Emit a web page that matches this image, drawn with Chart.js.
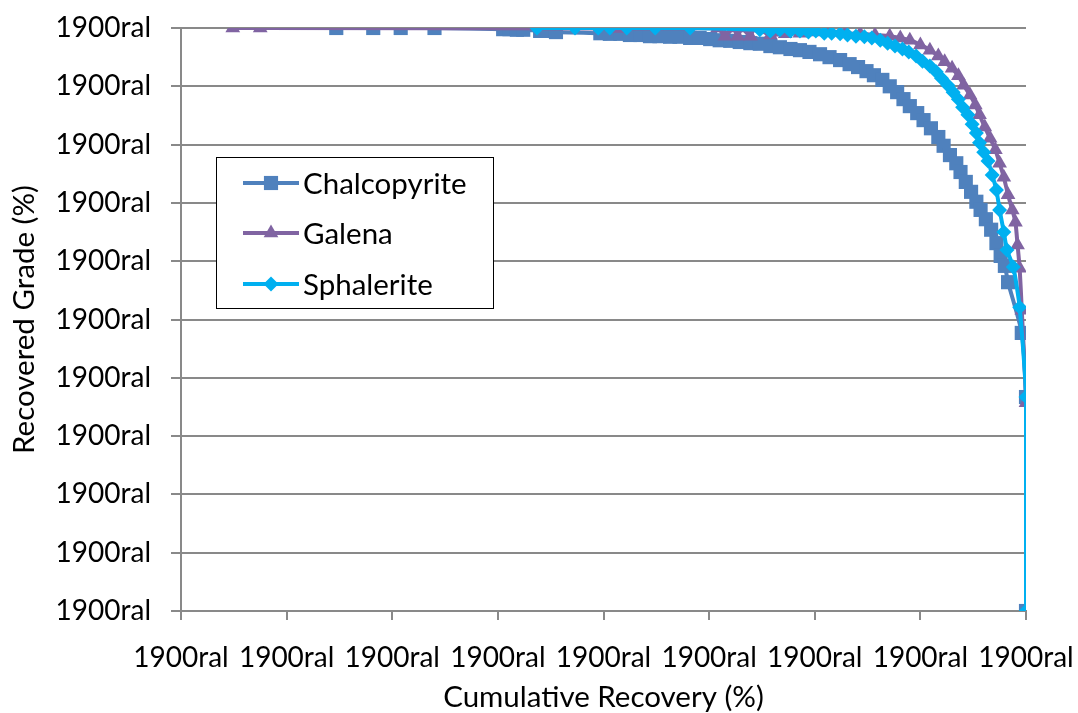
<!DOCTYPE html>
<html>
<head>
<meta charset="utf-8">
<title>Recovered Grade vs Cumulative Recovery</title>
<script src="https://cdn.jsdelivr.net/npm/chart.js@4/dist/chart.umd.min.js"></script>
<style>
  body { margin: 0; background: #fff; }
  #wrap { width: 1078px; height: 713px; }
</style>
</head>
<body>
<div id="wrap"><canvas id="gradeChart" width="1078" height="713"></canvas></div>
<script>
// series names and axis labels
const seriesNames = ["Chalcopyrite", "Galena", "Sphalerite"];
const tickText = "1900ral";
const xTitle = "Cumulative Recovery (%)";
const yTitle = "Recovered Grade (%)";

// Chalcopyrite
const chalcoX = [34.7, 38.2, 40.8, 44.0, 50.5, 51.1, 51.8, 52.4, 54.0, 54.7, 55.5, 59.7, 60.6, 61.6, 62.5, 63.5, 64.4, 65.3, 66.3, 67.2,
  68.2, 69.1, 70.1, 71.0, 72.0, 72.9, 73.9, 74.8, 75.8, 76.7, 77.7, 78.6, 79.5, 80.5, 81.4, 82.4, 83.3, 84.1, 84.9, 85.6,
  86.4, 87.1, 87.8, 88.4, 89.0, 89.7, 90.3, 91.0, 91.7, 92.2, 92.8, 93.4, 93.8, 94.3, 94.8, 95.3, 95.7, 96.2, 96.7, 97.2,
  97.6, 98.0, 98.3, 99.6, 100.0, 100.0];
const chalcoY = [100, 100, 100, 100, 99.8, 99.8, 99.7, 99.7, 99.5, 99.5, 99.3, 99.1, 99.0, 99.0, 98.8, 98.8, 98.6, 98.6, 98.5, 98.5,
  98.3, 98.3, 98.1, 97.9, 97.8, 97.6, 97.4, 97.3, 96.9, 96.7, 96.4, 96.2, 95.9, 95.5, 95.0, 94.5, 93.8, 93.3, 92.6, 91.9,
  91.1, 90.0, 89.0, 87.8, 86.6, 85.4, 84.2, 82.8, 81.3, 79.8, 78.2, 76.8, 75.3, 73.6, 71.9, 70.2, 68.8, 67.2, 65.4, 63.1,
  60.9, 59.2, 56.4, 47.7, 36.7, 0];

// Galena
const galenaX = [24.9, 27.5, 61.4, 70.8, 71.5, 72.3, 72.7, 73.1, 73.9, 74.3, 75.8, 77.2, 78.6, 80.0, 81.4, 82.9, 84.3, 85.7, 87.1, 88.1,
  89.0, 90.0, 90.9, 91.7, 92.3, 93.0, 93.6, 94.1, 94.7, 95.2, 95.6, 96.1, 96.6, 97.1, 97.5, 97.9, 98.3, 98.7, 99.0, 99.2,
  99.4, 99.6, 100.0, 100.0];
const galenaY = [100, 100, 99.9, 100, 98.6, 100, 98.6, 100, 98.6, 100, 98.8, 99.0, 99.1, 99.3, 99.5, 99.1, 99.0, 98.8, 98.6, 98.3,
  97.9, 97.1, 96.2, 95.2, 94.2, 93.1, 91.8, 90.2, 88.5, 86.8, 85.1, 83.0, 81.1, 79.1, 76.8, 74.4, 71.4, 68.8, 66.7, 62.8,
  58.8, 51.6, 35.7, 0];

// Sphalerite
const sphalX = [53.7, 57.3, 59.5, 60.6, 62.2, 64.9, 68.2, 74.8, 75.8, 76.7, 77.7, 78.6, 79.4, 80.1, 80.9, 81.6, 82.4, 83.1, 83.9, 84.7,
  85.4, 86.2, 86.9, 87.6, 88.3, 88.9, 89.6, 90.2, 90.9, 91.5, 92.0, 92.6, 93.1, 93.6, 94.0, 94.5, 94.9, 95.3, 95.6, 96.0,
  96.4, 96.8, 97.2, 97.5, 97.9, 98.2, 98.8, 99.4, 100.0, 100.0];
const sphalY = [100, 100, 100, 100, 100, 100, 100, 99.7, 99.5, 99.7, 99.5, 99.5, 99.3, 99.5, 99.1, 99.1, 99.0, 98.8, 98.6, 98.5,
  98.3, 97.9, 97.4, 96.9, 96.4, 95.9, 95.2, 94.3, 93.5, 92.5, 91.4, 90.2, 89.0, 87.8, 86.4, 85.1, 83.5, 82.0, 80.3, 78.7,
  77.2, 74.8, 72.2, 68.8, 65.0, 61.9, 59.0, 52.1, 36.7, 0];

const colors = ["#4F81BD", "#8064A2", "#00B0F0"];
const markers = ["rect", "triangle", "rectRot"];
const markerSize = [10, 8.5, 7.5];

function toPoints(xs, ys) {
  return xs.map((x, i) => ({ x: x, y: ys[i] }));
}

const seriesData = [toPoints(chalcoX, chalcoY), toPoints(galenaX, galenaY), toPoints(sphalX, sphalY)];

const datasets = seriesData.map((pts, i) => ({
  label: seriesNames[i],
  data: pts,
  borderColor: colors[i],
  backgroundColor: colors[i],
  borderWidth: 4,
  pointStyle: markers[i],
  pointRadius: markerSize[i],
  pointBorderWidth: 0,
  pointBackgroundColor: colors[i],
  tension: 0.2,
  // first series at the bottom, last one on top
  order: seriesNames.length - i
}));

const FONT = "Lato, 'Open Sans', sans-serif";
const gridColor = "#898989";

// legend box drawn inside the plot like the original
const boxLegend = {
  id: "boxLegend",
  afterDatasetsDraw(chart) {
    const ctx = chart.ctx;
    ctx.save();
    ctx.fillStyle = "#fff";
    ctx.fillRect(216, 157, 278, 151);
    ctx.strokeStyle = "#000";
    ctx.lineWidth = 1;
    ctx.strokeRect(216.5, 157.5, 277, 151);
    const rows = [183, 233, 284];
    chart.data.datasets.forEach((ds, i) => {
      const y = rows[i];
      ctx.strokeStyle = ds.borderColor;
      ctx.lineWidth = 4;
      ctx.beginPath();
      ctx.moveTo(243, y);
      ctx.lineTo(299, y);
      ctx.stroke();
      ctx.fillStyle = ds.borderColor;
      Chart.helpers.drawPoint(ctx, { pointStyle: ds.pointStyle, radius: ds.pointRadius, borderWidth: 0, rotation: 0 }, 271, y);
      ctx.fillStyle = "#000";
      ctx.font = "29.5px " + FONT;
      ctx.textBaseline = "middle";
      ctx.fillText(ds.label, 303, y + 1);
    });
    ctx.restore();
  }
};

const whiteBg = {
  id: "whiteBg",
  beforeDraw(chart) {
    const ctx = chart.ctx;
    ctx.save();
    ctx.fillStyle = "#fff";
    ctx.fillRect(0, 0, chart.width, chart.height);
    ctx.restore();
  }
};

new Chart(document.getElementById("gradeChart"), {
  type: "line",
  data: { datasets: datasets },
  options: {
    responsive: false,
    devicePixelRatio: 1,
    animation: false,
    layout: { padding: { left: 0, right: 52, top: 28, bottom: 0 } },
    plugins: {
      legend: { display: false },
      tooltip: { enabled: false }
    },
    scales: {
      x: {
        type: "linear",
        min: 20,
        max: 100,
        afterFit(scale) {
          scale.height = 102;
          // no extra room for the end labels, layout padding handles it
          scale.paddingLeft = 0;
          scale.paddingRight = 0;
        },
        ticks: {
          stepSize: 10,
          color: "#000",
          font: { family: FONT, size: 28 },
          padding: 21,
          maxRotation: 0,
          callback: () => tickText
        },
        grid: { drawOnChartArea: false, color: gridColor, lineWidth: 2, tickLength: 9 },
        border: { color: gridColor, width: 2 },
        title: { display: true, text: xTitle, color: "#000", font: { family: FONT, size: 29.5 }, padding: { top: 0, bottom: -2 } }
      },
      y: {
        min: 0,
        max: 100,
        afterFit(scale) {
          scale.width = 181;
          scale.paddingTop = 0;
          scale.paddingBottom = 0;
        },
        ticks: {
          stepSize: 10,
          color: "#000",
          font: { family: FONT, size: 28 },
          padding: 20,
          callback: () => tickText
        },
        grid: { color: gridColor, lineWidth: 2, tickLength: 10 },
        border: { color: gridColor, width: 2 },
        title: { display: true, text: yTitle, color: "#000", font: { family: FONT, size: 29.5 }, padding: { top: 7, bottom: 0 } }
      }
    }
  },
  plugins: [whiteBg, boxLegend]
});
</script>
</body>
</html>
